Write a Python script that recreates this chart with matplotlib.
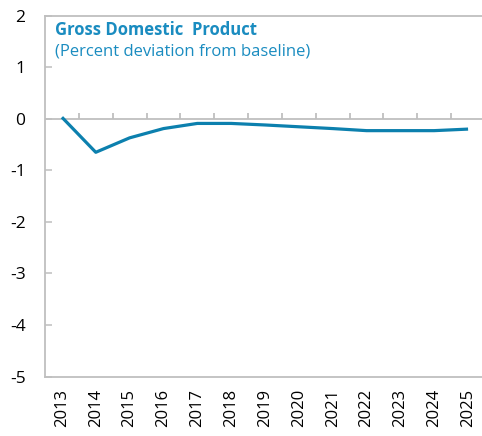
import numpy as np
import matplotlib
matplotlib.use("Agg")
import matplotlib.pyplot as plt

years = ['2013', '2014', '2015', '2016', '2017', '2018', '2019',
         '2020', '2021', '2022', '2023', '2024', '2025']
gdp = [0.03, -0.65, -0.37, -0.19, -0.09, -0.09, -0.12,
       -0.155, -0.19, -0.23, -0.23, -0.23, -0.20]

plt.rcParams['font.family'] = ['Open Sans', 'DejaVu Sans']
plt.rcParams['axes.unicode_minus'] = False

line_col = '#0C80AE'
text_col = '#1A8CC0'
grey = '#BFBFBF'

fig = plt.figure(figsize=(4.82, 4.36), dpi=100)
ax = fig.add_axes([45 / 482, 59.5 / 436, 440 / 482, 360.8 / 436])

x = np.arange(len(years))
ax.plot(x, gdp, color=line_col, linewidth=2.3, solid_capstyle='butt', zorder=3)

ax.set_xlim(-0.5, len(years) - 0.5)
ax.set_ylim(-5, 2)

# zero line with category-boundary ticks
ax.axhline(0, color=grey, linewidth=1.3, zorder=2)
ax.vlines(np.arange(0.5, len(years) - 0.5), 0, 0.12, color=grey, linewidth=1.3, zorder=2)

ax.set_xticks(x)
ax.set_xticklabels(years, rotation=90)
ax.tick_params(axis='x', length=0, pad=9, labelsize=12)
ax.set_yticks(range(-5, 3))
ax.tick_params(axis='y', direction='in', length=5, width=1.1, color=grey, pad=14, labelsize=12.5)

for s in ['left', 'top', 'bottom']:
    ax.spines[s].set_color(grey)
    ax.spines[s].set_linewidth(1.3)
ax.spines['right'].set_visible(False)

ax.text(0.022, 0.985, 'Gross Domestic  Product', transform=ax.transAxes,
        color=text_col, fontsize=12, fontweight='bold', va='top', ha='left')
ax.text(0.022, 0.922, '(Percent deviation from baseline)', transform=ax.transAxes,
        color=text_col, fontsize=12, va='top', ha='left')

fig.savefig('out.png', dpi=100)
